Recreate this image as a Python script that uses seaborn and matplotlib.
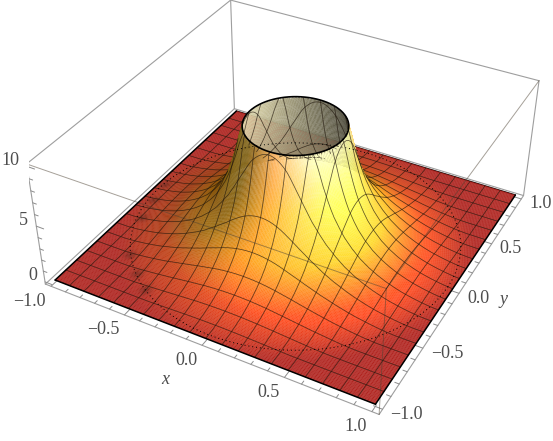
"""Height field over the unit square, clipped at z = 10, shaded like a lit 3D plot."""

import matplotlib
matplotlib.use("Agg")
import matplotlib.pyplot as plt
import numpy as np
import seaborn as sns
from mpl_toolkits.mplot3d import proj3d

radial_r = [0.00, 0.295, 0.32, 0.34, 0.36, 0.38, 0.40, 0.43, 0.46, 0.50, 0.55, 0.60,
            0.65, 0.70, 0.75, 0.80, 0.85, 0.90, 0.95, 1.00, 1.05, 1.50]
radial_z = [9.8, 9.8, 8.6, 7.5, 6.6, 5.8, 5.1, 4.3, 3.6, 2.9, 2.2, 1.68,
            1.27, 0.94, 0.68, 0.46, 0.30, 0.17, 0.07, 0.01, 0.0, 0.0]

x_ticks = [-1.0, -0.5, 0.0, 0.5, 1.0]
y_ticks = [-1.0, -0.5, 0.0, 0.5, 1.0]
z_ticks = [0, 5, 10]
tick_labels_xy = ["\u22121.0", "\u22120.5", "0.0", "0.5", "1.0"]
tick_labels_z = ["0", "5", "10"]
mesh_lines = [-0.9, -0.8, -0.7, -0.6, -0.5, -0.4, -0.3, -0.2, -0.1, 0.0,
              0.1, 0.2, 0.3, 0.4, 0.5, 0.6, 0.7, 0.8, 0.9]

# dark smudges along the crease on the left
spot_x = [-0.95, -0.92, -0.88, -0.75, -0.62, -0.50]
spot_y = [0.05, -0.12, -0.30, -0.62, -0.74, -0.83]

height_colors = ["#b0241f", "#e04a1c", "#ffb428", "#ffe858", "#ffffd0"]

BOX = 1.04
ZLOW, ZHIGH = -0.2, 10.2
ZASPECT = 0.3987
RIM = radial_r[1]
CELLS = 240
ELEV, AZIM = 36.03, -61.49
EYE_DIST = 3.38  # in box widths

sns.set_theme(style="white")
plt.rcParams["font.family"] = ["Liberation Serif", "DejaVu Serif"]
INK = (0.3, 0.3, 0.3)

_el, _az = np.radians(ELEV), np.radians(AZIM)
FRONT = np.array([np.cos(_el) * np.cos(_az), np.cos(_el) * np.sin(_az), np.sin(_el)])
RIGHT = np.array([-np.sin(_az), np.cos(_az), 0.0])
UP = np.cross(FRONT, RIGHT)


def height(r):
    return np.interp(r, radial_r, radial_z)


def surface_grid():
    edges = np.linspace(-1, 1, CELLS + 1)
    X, Y = np.meshgrid(edges, edges)
    return X, Y, height(np.hypot(X, Y))


def cell_colors():
    """Colour by height, then lit by three coloured lights fixed to the view."""
    centres = np.linspace(-1, 1, CELLS + 1)[:-1] + 1 / CELLS
    cx, cy = np.meshgrid(centres, centres)
    r = np.hypot(cx, cy)
    z = height(r)
    slope = np.interp(r, radial_r[1:], np.gradient(radial_z[1:], radial_r[1:]))
    slope = slope * ZASPECT / (ZHIGH - ZLOW) * 2 * BOX  # slope as drawn, not in data units
    normal = np.stack([-slope * cx / r, -slope * cy / r, np.ones_like(r)], -1)
    normal /= np.linalg.norm(normal, axis=-1, keepdims=True)

    view = np.stack([normal @ RIGHT, normal @ UP, normal @ FRONT], -1)
    inside = view[..., 2] < 0
    view[inside] *= -1

    ambient = np.array([0.312, 0.188, 0.4])
    lights = np.array([[1.5, -0.5, 2.0], [1.5, 1.5, 2.0], [-0.5, 1.5, 2.0]])
    lights /= np.linalg.norm(lights, axis=1, keepdims=True)
    flat_view = np.array([0.0, UP[2], FRONT[2]])
    flat = ambient + 0.8 * np.clip(lights @ flat_view, 0, None)
    lit = (ambient + 0.8 * np.clip(view @ lights.T, 0, None)) / flat
    lit = 0.3 * lit + 0.7 * lit.mean(axis=-1, keepdims=True)
    lit[..., 2] = np.minimum(lit[..., 2], lit[..., 1] ** 2)  # shadow side goes olive, not mauve

    cmap = sns.blend_palette(height_colors, as_cmap=True)
    colors = cmap(np.sqrt(np.clip(z / 10, 0, 1)))
    colors[..., :3] = np.clip(colors[..., :3] * lit, 0, 1)

    for sx, sy in zip(spot_x, spot_y):
        colors[..., :3] *= 1 - 0.3 * np.exp(-((cx - sx) ** 2 + (cy - sy) ** 2) / 0.0012)[..., None]

    # the inside of the wall stays a dull grey, lighter towards the left
    shade = 0.65 + 0.35 * view[..., 0]
    colors[inside, :3] = np.clip(shade[inside, None] * np.array([0.93, 0.9, 0.72]), 0, 1)
    colors[r < RIM, 3] = 0.0
    return colors


def hide_occluded(x, y, z):
    """NaN out points of a mesh line that the surface hides from the camera."""
    eye = np.array([EYE_DIST * FRONT[0] * 2 * BOX,
                    EYE_DIST * FRONT[1] * 2 * BOX,
                    5 + EYE_DIST * FRONT[2] * (ZHIGH - ZLOW) / ZASPECT])
    s = np.linspace(0.0015, 0.45, 160)[:, None]
    rx = x + (eye[0] - x) * s
    ry = y + (eye[1] - y) * s
    rz = z + (eye[2] - z) * s
    rr = np.hypot(rx, ry)
    gap = rz - height(rr)
    crossed = (gap[:-1] * gap[1:] < 0) & (rr[1:] >= RIM) & (rr[:-1] >= RIM)
    z = z.copy()
    z[crossed.any(axis=0)] = np.nan
    return z


def draw_mesh(ax):
    kw = dict(color=(0.13, 0.09, 0.05), alpha=0.72, lw=0.55, zorder=3)
    t = np.linspace(-1, 1, 801)
    for c in mesh_lines:
        r = np.hypot(t, c)
        for x, y in [(np.full_like(t, c), t), (t, np.full_like(t, c))]:
            z = hide_occluded(x, y, height(r))
            z[r < RIM] = np.nan
            ax.plot(x, y, z, **kw)


def box_line(ax, p, q, **kw):
    ax.plot(*zip(p, q), **kw)


def draw_box(ax):
    back = dict(color="0.62", lw=0.8, zorder=1)
    over = dict(color=(0.3, 0.26, 0.2), alpha=0.5, lw=0.7, zorder=3)
    b, lo, hi = BOX, ZLOW, ZHIGH
    box_line(ax, (-b, -b, lo), (b, -b, lo), **back)
    box_line(ax, (b, -b, lo), (b, b, lo), **back)
    box_line(ax, (b, b, lo), (-b, b, lo), **back)
    box_line(ax, (-b, b, lo), (-b, -b, lo), **back)
    box_line(ax, (-b, -b, lo), (-b, -b, hi), **back)
    box_line(ax, (b, b, lo), (b, b, hi), **back)
    box_line(ax, (-b, b, lo), (-b, b, hi), **back)
    box_line(ax, (-b, -b, hi), (-b, b, hi), **back)
    box_line(ax, (-b, b, hi), (b, b, hi), **back)
    box_line(ax, (-b, -b, hi), (b, -b, hi), **over)
    box_line(ax, (b, -b, hi), (b, b, hi), **over)
    box_line(ax, (b, -b, lo), (b, -b, hi), **over)


def draw_ticks(ax):
    kw = dict(color="0.55", lw=0.7, zorder=1)
    b, lo = BOX, ZLOW
    for t in np.arange(-10, 11) / 10:
        size = 0.05 if t * 10 % 5 == 0 else 0.025
        box_line(ax, (t, -b, lo), (t, -b + size, lo), **kw)
        box_line(ax, (b, t, lo), (b - size, t, lo), **kw)
    for t in range(0, 11):
        size = 0.05 if t % 5 == 0 else 0.025
        box_line(ax, (-b, -b, t), (-b + size, -b, t), **kw)


def label_at(ax, text, point, offset, **kw):
    x2, y2, _ = proj3d.proj_transform(*point, ax.get_proj())
    ax.annotate(text, (x2, y2), xytext=offset, textcoords="offset pixels",
                color=INK, va="center", annotation_clip=False, **kw)


def draw_labels(ax):
    b, lo = BOX, ZLOW
    for t, s in zip(x_ticks, tick_labels_xy):
        label_at(ax, s, (t, -b, lo), (-5, -15), ha="right", fontsize=13)
    for t, s in zip(y_ticks, tick_labels_xy):
        label_at(ax, s, (b, t, lo), (8, -5), ha="left", fontsize=13)
    for t, s in zip(z_ticks, tick_labels_z):
        label_at(ax, s, (-b, -b, t), (-8, 6), ha="right", fontsize=13)
    label_at(ax, "x", (0, -b, lo), (-37, -34), ha="center", fontsize=13, style="italic")
    label_at(ax, "y", (b, 0, lo), (44, -6), ha="center", fontsize=13, style="italic")


def main() -> None:
    fig = plt.figure(figsize=(5.53, 4.41), dpi=100)
    fig.patch.set_facecolor("white")
    ax = fig.add_axes([28.86 / 553, -6.65 / 441, 519.2 / 553, 519.2 / 441], projection="3d")
    ax.set_axis_off()
    ax.computed_zorder = False
    ax.set_xlim(-BOX, BOX)
    ax.set_ylim(-BOX, BOX)
    ax.set_zlim(ZLOW, ZHIGH)
    ax.view_init(ELEV, AZIM)
    ax.set_proj_type("persp", focal_length=0.4412)
    ax.set_box_aspect((1, 1, ZASPECT))

    draw_box(ax)
    draw_ticks(ax)

    # the far edge passes behind the wall, so it goes under the surface
    ax.plot([1, -1], [1, 1], [0, 0], color="black", lw=1.0, zorder=1.5)
    X, Y, Z = surface_grid()
    ax.plot_surface(X, Y, Z, rstride=1, cstride=1, facecolors=cell_colors(), shade=False,
                    linewidth=0.15, antialiased=True, zorder=2)
    draw_mesh(ax)

    # rest of the surface outline and the clipped rim
    edge = dict(color="black", lw=1.1, zorder=3)
    for a, b in [((-1, -1), (1, -1)), ((1, -1), (1, 1)), ((-1, 1), (-1, -1))]:
        ax.plot([a[0], b[0]], [a[1], b[1]], [0, 0], **edge)
    angle = np.linspace(0, 2 * np.pi, 241)
    ax.plot(RIM * np.cos(angle), RIM * np.sin(angle), np.full_like(angle, radial_z[1]),
            color="black", lw=1.2, zorder=4)
    ax.plot(0.97 * np.cos(angle), 0.97 * np.sin(angle), np.full_like(angle, 0.02),
            color="black", lw=0.7, ls=(0, (1, 3)), zorder=3)

    draw_labels(ax)
    fig.savefig("out.png", dpi=100)


if __name__ == "__main__":
    main()
